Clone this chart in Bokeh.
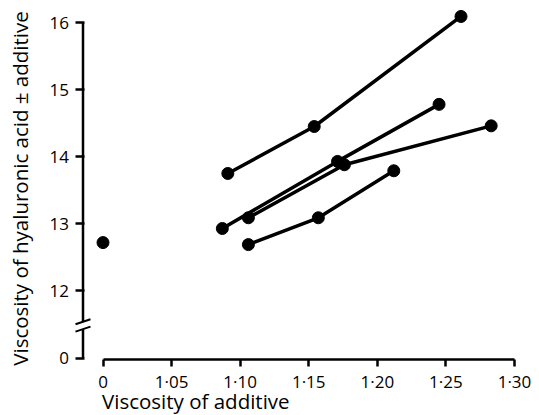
import math
from bokeh.plotting import figure
from bokeh.models import FixedTicker, Range1d
from bokeh.core.properties import value
from bokeh.embed import file_html
from bokeh.resources import INLINE

# ---------------- data ----------------
x_ticks = [1.00, 1.05, 1.10, 1.15, 1.20, 1.25, 1.30]
x_tick_labels = ["0", "1·05", "1·10", "1·15", "1·20", "1·25", "1·30"]
y_ticks = [11, 12, 13, 14, 15, 16]
y_tick_labels = ["0", "12", "13", "14", "15", "16"]

series1_x = [1.091, 1.154, 1.261]
series1_y = [13.75, 14.45, 16.09]
series2_x = [1.087, 1.171, 1.245]
series2_y = [12.93, 13.93, 14.78]
series3_x = [1.106, 1.176, 1.283]
series3_y = [13.09, 13.88, 14.46]
series4_x = [1.106, 1.157, 1.212]
series4_y = [12.69, 13.09, 13.79]
control_x = [1.00]
control_y = [12.72]

x_label = "Viscosity of additive"
y_label = "Viscosity of hyaluronic acid ± additive"

# ---------------- layout (page pixels) ----------------
W, H = 531, 415
OFF_X, OFF_Y = 0, 0                 # where the canvas lands on the page
X0_PX, X1_PX = 102.5, 514.0         # pixel of first / last x tick
Y16_PX, PX_PER_Y = 22.0, 67.1       # pixel of top y tick, pixels per unit
XAXIS_PY = 359.0
YAXIS_PX = 82.5
BREAK_LO, BREAK_HI = 11.43, 11.54
TEXT_SHIFT = 8                      # correction of the rendered text baseline
FONT = "Open Sans"

K = (X1_PX - X0_PX) / (x_ticks[-1] - x_ticks[0])


def x_at(px):
    return x_ticks[0] + (px - X0_PX) / K


def y_at(py):
    return y_ticks[-1] - (py - Y16_PX) / PX_PER_Y


# the frame covers the whole canvas; both axes are placed at fixed locations
p = figure(width=W, height=H,
           x_range=Range1d(x_at(OFF_X), x_at(OFF_X + W)),
           y_range=Range1d(y_at(OFF_Y + H), y_at(OFF_Y)),
           min_border=0, min_border_left=0, min_border_right=0,
           min_border_top=0, min_border_bottom=0,
           output_backend="svg", toolbar_location=None)

p.outline_line_color = None
p.grid.visible = False
p.background_fill_color = "white"
p.border_fill_color = "white"

# x axis
xa = p.xaxis[0]
xa.fixed_location = y_at(XAXIS_PY)
xa.ticker = FixedTicker(ticks=x_ticks)
xa.major_label_overrides = {t: l for t, l in zip(x_ticks, x_tick_labels)}
xa.bounds = (x_ticks[0], x_ticks[-1])
xa.axis_line_width = 2.5
xa.axis_line_color = "black"
xa.major_tick_line_width = 2.5
xa.major_tick_line_color = "black"
xa.major_tick_out = 7
xa.major_tick_in = 0
xa.minor_tick_line_color = None
xa.major_label_text_font = FONT
xa.major_label_text_font_size = "17px"
xa.major_label_text_color = "black"
xa.major_label_standoff = 3

# y axis (its line is drawn as glyphs because of the break)
ya = p.yaxis[0]
ya.fixed_location = x_at(YAXIS_PX)
ya.ticker = FixedTicker(ticks=y_ticks)
ya.major_label_overrides = {t: l for t, l in zip(y_ticks, y_tick_labels)}
ya.bounds = (y_ticks[0], y_ticks[-1])
ya.axis_line_color = None
ya.major_tick_line_width = 2.5
ya.major_tick_line_color = "black"
ya.major_tick_out = 8
ya.major_tick_in = 1
ya.minor_tick_line_color = None
ya.major_label_text_font = FONT
ya.major_label_text_font_size = "17px"
ya.major_label_text_color = "black"
ya.major_label_standoff = 6

yx = x_at(YAXIS_PX)
p.segment(x0=[yx, yx], y0=[y_ticks[0], BREAK_HI], x1=[yx, yx], y1=[BREAK_LO, y_ticks[-1]],
          line_width=2.5, line_color="black")
dx = 7.5 / K
dy = 2.5 / PX_PER_Y
p.segment(x0=[yx - dx, yx - dx], y0=[BREAK_LO - dy, BREAK_HI - dy],
          x1=[yx + dx, yx + dx], y1=[BREAK_LO + dy, BREAK_HI + dy],
          line_width=2, line_color="black")

# data
for xs, ys in [(series1_x, series1_y), (series2_x, series2_y),
               (series3_x, series3_y), (series4_x, series4_y)]:
    p.line(xs, ys, line_width=3.5, line_color="black")
    p.scatter(xs, ys, size=12, fill_color="black", line_color="black")
p.scatter(control_x, control_y, size=12, fill_color="black", line_color="black")

# axis titles
p.text(x=[x_at(101.5)], y=[y_at(408 - TEXT_SHIFT)], text=[x_label],
       text_align="left", text_baseline="alphabetic",
       text_font=value(FONT), text_font_size=value("20.5px"), text_color="black")
p.text(x=[x_at(27 - TEXT_SHIFT)], y=[y_at(188)], text=[y_label], angle=math.pi / 2,
       text_align="center", text_baseline="alphabetic",
       text_font=value(FONT), text_font_size=value("20.5px"), text_color="black")

open("out.html", "w").write(file_html(p, INLINE))
